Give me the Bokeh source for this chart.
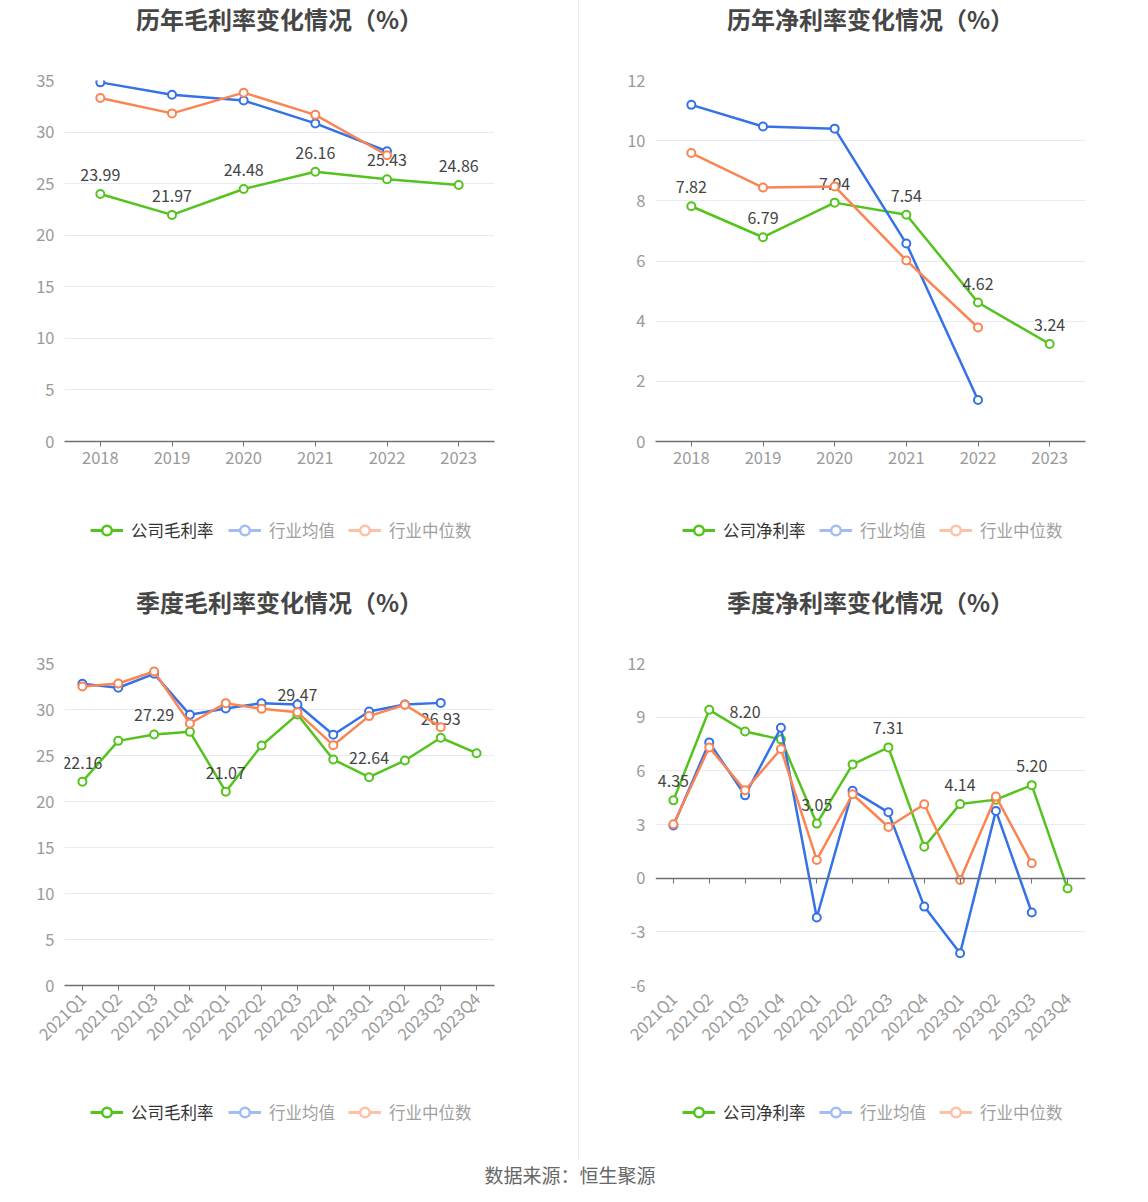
import math
from bokeh.plotting import figure
from bokeh.models import (FactorRange, Range1d, FixedTicker, Legend, LegendItem,
                          ColumnDataSource, CategoricalAxis, Div, PrintfTickFormatter)
from bokeh.core.properties import value
from bokeh.layouts import column, row
from bokeh.embed import file_html
from bokeh.resources import INLINE

FONT = "Noto Sans CJK SC"

years = ["2018", "2019", "2020", "2021", "2022", "2023"]
quarters = ["2021Q1", "2021Q2", "2021Q3", "2021Q4", "2022Q1", "2022Q2",
            "2022Q3", "2022Q4", "2023Q1", "2023Q2", "2023Q3", "2023Q4"]

gm_company = [23.99, 21.97, 24.48, 26.16, 25.43, 24.86]
gm_mean = [34.82, 33.61, 33.06, 30.84, 28.14]
gm_median = [33.30, 31.81, 33.82, 31.67, 27.75]

nm_company = [7.82, 6.79, 7.94, 7.54, 4.62, 3.24]
nm_mean = [11.19, 10.47, 10.40, 6.58, 1.38]
nm_median = [9.59, 8.44, 8.48, 6.02, 3.79]

qgm_company = [22.16, 26.59, 27.29, 27.57, 21.07, 26.09, 29.47, 24.57, 22.64, 24.46, 26.93, 25.25]
qgm_mean = [32.79, 32.36, 33.88, 29.42, 30.11, 30.69, 30.54, 27.25, 29.78, 30.54, 30.72]
qgm_median = [32.50, 32.83, 34.13, 28.48, 30.69, 30.07, 29.71, 26.12, 29.28, 30.51, 28.08]

qnm_company = [4.35, 9.41, 8.20, 7.76, 3.05, 6.36, 7.31, 1.76, 4.14, 4.39, 5.20, -0.58]
qnm_mean = [2.94, 7.59, 4.63, 8.41, -2.20, 4.89, 3.68, -1.59, -4.20, 3.76, -1.92]
qnm_median = [3.01, 7.31, 4.91, 7.22, 1.02, 4.69, 2.86, 4.13, -0.10, 4.56, 0.83]

legend_names = ["行业均值", "行业中位数"]

GREEN = "#55C31E"
BLUE = "#3572E6"
ORANGE = "#FA8553"
BLUE_L = "#A2BDF3"
ORANGE_L = "#FDC1A6"

FRAME_W = 430


def strip(width, height):
    # the column layout aligns this strip's frame with the chart frame
    s = figure(width=width, height=height, x_range=Range1d(0, FRAME_W), y_range=Range1d(0, height),
               x_axis_type=None, y_axis_type=None, output_backend="svg", toolbar_location=None,
               min_border=0)
    s.outline_line_color = None
    s.xgrid.visible = False
    s.ygrid.visible = False
    return s


def title_strip(text, width, height, cy_from_top):
    s = strip(width, height)
    src = ColumnDataSource(dict(x=[FRAME_W / 2], y=[height - cy_from_top], t=[text]))
    s.text("x", "y", text="t", source=src, text_align="center", text_baseline="middle",
           text_font=value(FONT), text_font_size="24px", text_font_style="bold",
           text_color="#464646")
    return s


def legend_strip(company_name, width, height, xs, cy_from_top):
    s = strip(width, height)
    items = [(company_name, GREEN, "#333333", xs[0]),
             (legend_names[0], BLUE_L, "#A0A0A0", xs[1]),
             (legend_names[1], ORANGE_L, "#A0A0A0", xs[2])]
    for name, c, tc, lx in items:
        # one off-screen point so that the legend can draw its icon
        lr = s.line(x=[-50, -40], y=[-50, -50], line_color=c, line_width=3)
        sr = s.scatter(x=[-50], y=[-50], size=10, fill_color="white", line_color=c, line_width=2.5)
        lg = Legend(items=[LegendItem(label=name, renderers=[lr, sr])],
                    location=(lx, height - cy_from_top - 12), orientation="horizontal",
                    glyph_width=33, glyph_height=24, label_height=24, label_standoff=8,
                    padding=0, margin=0, spacing=0,
                    border_line_color=None, background_fill_alpha=0,
                    label_text_font=FONT, label_text_font_size="16.5px", label_text_color=tc)
        s.add_layout(lg, "center")
    return s


def make_chart(cats, company, mean, median, ymin, ymax, yticks,
               width, height, bl, br, bt, bb, label_step, rotated, zero_axis):
    p = figure(x_range=FactorRange(factors=cats, range_padding=0),
               y_range=Range1d(ymin, ymax), width=width, height=height,
               output_backend="svg", toolbar_location=None,
               min_border_left=bl, min_border_right=br, min_border_top=bt,
               min_border_bottom=bb)
    p.outline_line_color = None
    p.xgrid.grid_line_color = None
    p.ygrid.grid_line_color = "#E6EBF5"
    p.ygrid.grid_line_width = 1
    p.yaxis.ticker = FixedTicker(ticks=yticks)
    p.yaxis.formatter = PrintfTickFormatter(format="%d")
    p.yaxis.axis_line_color = None
    p.yaxis.major_tick_line_color = None
    p.yaxis.minor_tick_line_color = None
    p.yaxis.major_tick_out = 0
    p.yaxis.major_tick_in = 0
    p.yaxis.minor_tick_out = 0
    p.yaxis.major_label_text_color = "#9A9A9A"
    p.yaxis.major_label_text_font = FONT
    p.yaxis.major_label_text_font_size = "16.5px"
    p.yaxis.major_label_standoff = 10

    xa = p.xaxis[0]
    xa.major_label_text_color = "#9A9A9A"
    xa.major_label_text_font = FONT
    xa.major_label_text_font_size = "16.5px"
    xa.axis_line_color = "#6E7079"
    xa.axis_line_width = 1.5
    xa.major_tick_line_color = "#6E7079"
    xa.major_tick_in = 0
    xa.major_tick_out = 5
    xa.major_label_standoff = 5
    if rotated:
        xa.major_label_orientation = math.pi / 4
    if zero_axis:
        xa.axis_line_color = None
        xa.major_tick_line_color = None
        za = CategoricalAxis(fixed_location=0, axis_line_color="#6E7079", axis_line_width=1.5,
                             major_tick_line_color="#6E7079", major_tick_in=0, major_tick_out=5,
                             major_label_text_font_size="0px", major_label_text_alpha=0)
        p.add_layout(za, "below")

    def series(vals, color):
        src = ColumnDataSource(dict(x=cats[:len(vals)], y=vals))
        p.line("x", "y", source=src, line_color=color, line_width=2.5)
        p.scatter("x", "y", source=src, size=8, fill_color="white", line_color=color,
                  line_width=2)

    series(company, GREEN)
    lab_x = [c for i, c in enumerate(cats[:len(company)]) if i % label_step == 0]
    lab_v = [v for i, v in enumerate(company) if i % label_step == 0]
    lsrc = ColumnDataSource(dict(x=lab_x, y=lab_v, t=["%.2f" % v for v in lab_v]))
    p.text("x", "y", text="t", source=lsrc, text_align="center", text_baseline="bottom",
           y_offset=-13, text_font_size="16px", text_color="#444444", text_font=value(FONT))
    series(mean, BLUE)
    series(median, ORANGE)
    return p


LW, RW = 578, 562

# top row
t1 = title_strip("历年毛利率变化情况（%）", LW, 40, 18)
p1 = make_chart(years, gm_company, gm_mean, gm_median, 0, 35, [0, 5, 10, 15, 20, 25, 30, 35],
                LW, 470, 64, 84, 40, 69, 1, False, False)
l1 = legend_strip("公司毛利率", LW, 60, [26, 164, 284], 20)

t2 = title_strip("历年净利率变化情况（%）", RW, 40, 18)
p2 = make_chart(years, nm_company, nm_mean, nm_median, 0, 12, [0, 2, 4, 6, 8, 10, 12],
                RW, 470, 76, 56, 40, 69, 1, False, False)
l2 = legend_strip("公司净利率", RW, 60, [27, 164, 284], 20)

# bottom row
t3 = title_strip("季度毛利率变化情况（%）", LW, 61, 31)
p3 = make_chart(quarters, qgm_company, qgm_mean, qgm_median, 0, 35, [0, 5, 10, 15, 20, 25, 30, 35],
                LW, 461, 64, 84, 32, 107, 2, True, False)
l3 = legend_strip("公司毛利率", LW, 68, [26, 164, 284], 20)

t4 = title_strip("季度净利率变化情况（%）", RW, 61, 31)
p4 = make_chart(quarters, qnm_company, qnm_mean, qnm_median, -6, 12, [-6, -3, 0, 3, 6, 9, 12],
                RW, 461, 76, 56, 32, 107, 2, True, True)
l4 = legend_strip("公司净利率", RW, 68, [27, 164, 284], 20)

footer = Div(text="数据来源：恒生聚源", width=1140, height=30, margin=(0, 0, 0, 0),
             styles={"text-align": "center", "font-size": "19px", "color": "#666666",
                     "font-family": FONT, "width": "1140px", "line-height": "30px"})

divider = {"border-left": "1px solid #EEEEEE"}
layout = column(row(column(t1, p1, l1), column(t2, p2, l2, styles=divider)),
                row(column(t3, p3, l3), column(t4, p4, l4, styles=divider)),
                footer)
open("out.html", "w").write(file_html(layout, INLINE))
